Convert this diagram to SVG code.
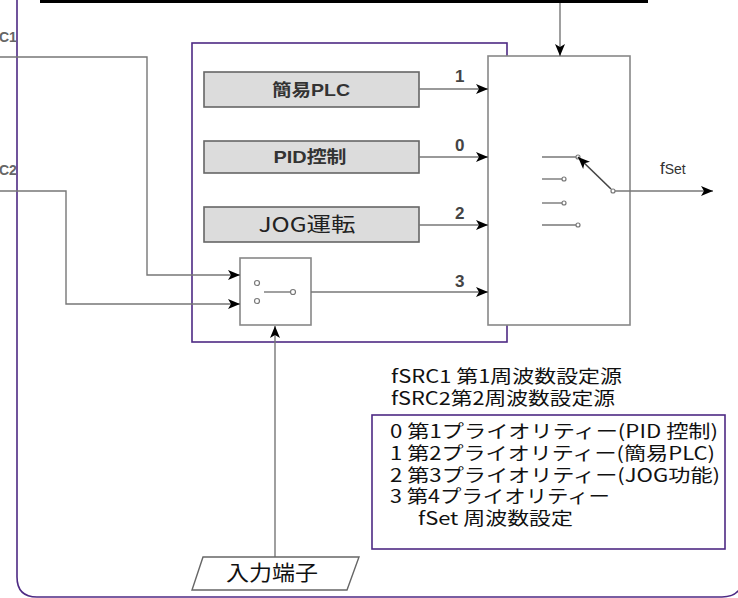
<svg xmlns="http://www.w3.org/2000/svg" width="738" height="598" viewBox="0 0 738 598">
<style>
.ln{fill:none;stroke:#777;stroke-width:1.4}
.pu{fill:none;stroke:#4e2a84;stroke-width:1.6}
.bx{fill:#dcdcdc;stroke:#666;stroke-width:1.6}
.wb{fill:#fff;stroke:#888;stroke-width:1.6}
.dot{fill:#fff;stroke:#777;stroke-width:1.2}
.lb{font-family:"Liberation Sans",Arial,sans-serif;font-weight:bold;fill:#444;font-size:17px}
.cj{font-family:"Noto Sans CJK JP","Noto Sans",sans-serif;fill:#111}
.bt{font-family:"Liberation Sans","Noto Sans CJK JP",sans-serif;font-weight:bold;fill:#333;font-size:17px}
</style>
<defs>
<marker id="ah" markerUnits="userSpaceOnUse" markerWidth="12" markerHeight="12" viewBox="0 0 12 12" refX="12" refY="6" orient="auto">
<path d="M0,1 L12,6 L0,11 L3,6 Z" fill="#000"/>
</marker>
</defs>
<g id="outer">
<path class="pu" d="M17,-5 V577 Q17,597 37,597 H722 Q737,597 742,585"/>
<rect x="40" y="0" width="608" height="3" fill="#000"/>
</g>
<g id="inner-frame"><rect class="pu" x="192" y="43" width="315" height="299"/></g>
<g id="src-labels">
<text class="lb" x="-1" y="42" style="font-size:14px;fill:#666">C1</text>
<text class="lb" x="-1" y="175" style="font-size:14px;fill:#666">C2</text>
</g>
<g id="plc"><rect class="bx" x="204" y="72" width="215" height="35"/><text class="bt" x="311" y="96" text-anchor="middle" textLength="78" lengthAdjust="spacingAndGlyphs">簡易PLC</text></g>
<g id="pid"><rect class="bx" x="204" y="141" width="215" height="32"/><text class="bt" x="310" y="163" text-anchor="middle" textLength="73" lengthAdjust="spacingAndGlyphs">PID控制</text></g>
<g id="jog"><rect class="bx" x="204" y="207" width="215" height="35"/><text class="cj" x="307" y="232" text-anchor="middle" textLength="97" lengthAdjust="spacingAndGlyphs" style="font-size:20px;fill:#222">JOG運転</text></g>
<g id="src-switch">
<rect class="wb" x="240" y="258" width="71" height="67"/>
<circle class="dot" cx="257" cy="283" r="2.5"/>
<circle class="dot" cx="257" cy="301" r="2.5"/>
<line class="ln" x1="264" y1="292" x2="291" y2="292"/>
<circle class="dot" cx="293" cy="292" r="2.5"/>
</g>
<g id="selector">
<rect class="wb" x="488" y="56" width="142" height="269"/>
<line class="ln" x1="542" y1="157" x2="576" y2="157"/><circle class="dot" cx="578" cy="157" r="2"/>
<line class="ln" x1="542" y1="179" x2="562" y2="179"/><circle class="dot" cx="564" cy="179" r="2"/>
<line class="ln" x1="542" y1="203" x2="562" y2="203"/><circle class="dot" cx="564" cy="203" r="2"/>
<line class="ln" x1="542" y1="225" x2="576" y2="225"/><circle class="dot" cx="578" cy="225" r="2"/>
<line x1="611" y1="189" x2="578" y2="157" stroke="#444" stroke-width="1.6" marker-end="url(#ah)"/>
<circle class="dot" cx="613" cy="191" r="2"/>
</g>
<g id="connectors">
<path class="ln" d="M0,57 H147 V275 H240" marker-end="url(#ah)"/>
<path class="ln" d="M0,191 H66 V304 H240" marker-end="url(#ah)"/>
<line class="ln" x1="419" y1="89" x2="488" y2="89" marker-end="url(#ah)"/>
<line class="ln" x1="419" y1="157" x2="488" y2="157" marker-end="url(#ah)"/>
<line class="ln" x1="419" y1="225" x2="488" y2="225" marker-end="url(#ah)"/>
<line class="ln" x1="311" y1="292" x2="488" y2="292" marker-end="url(#ah)"/>
<line class="ln" x1="560" y1="3" x2="560" y2="56" marker-end="url(#ah)"/>
<line class="ln" x1="275" y1="557" x2="275" y2="326" marker-end="url(#ah)"/>
<line class="ln" x1="615" y1="191" x2="713" y2="191" marker-end="url(#ah)"/>
<text class="lb" x="455" y="82">1</text>
<text class="lb" x="455" y="151">0</text>
<text class="lb" x="455" y="219">2</text>
<text class="lb" x="455" y="287">3</text>
<text class="lb" x="660" y="174" style="font-weight:normal;fill:#333;font-size:17px">f<tspan style="font-size:14px">Set</tspan></text>
</g>
<g id="input">
<polygon points="203,557 359,557 347,590 192,590" fill="#fff" stroke="#666" stroke-width="1.4"/>
<text class="cj" x="272" y="580" text-anchor="middle" textLength="92" lengthAdjust="spacingAndGlyphs" style="font-size:21px">入力端子</text>
</g>
<g id="legend">
<rect class="pu" x="372" y="415" width="353" height="134"/>
<g class="cj" style="font-size:18px">
<text x="391" y="383" textLength="231" lengthAdjust="spacingAndGlyphs">fSRC1 第1周波数設定源</text>
<text x="391" y="405" textLength="224" lengthAdjust="spacingAndGlyphs">fSRC2第2周波数設定源</text>
<text x="390" y="438" textLength="328" lengthAdjust="spacingAndGlyphs">0 第1プライオリティー(PID 控制)</text>
<text x="390" y="460" textLength="325" lengthAdjust="spacingAndGlyphs">1 第2プライオリティー(簡易PLC)</text>
<text x="390" y="482" textLength="330" lengthAdjust="spacingAndGlyphs">2 第3プライオリティー(JOG功能)</text>
<text x="390" y="503" textLength="220" lengthAdjust="spacingAndGlyphs">3 第4プライオリティー</text>
<text x="418" y="525" textLength="155" lengthAdjust="spacingAndGlyphs">fSet  周波数設定</text>
</g>
</g>
</svg>
